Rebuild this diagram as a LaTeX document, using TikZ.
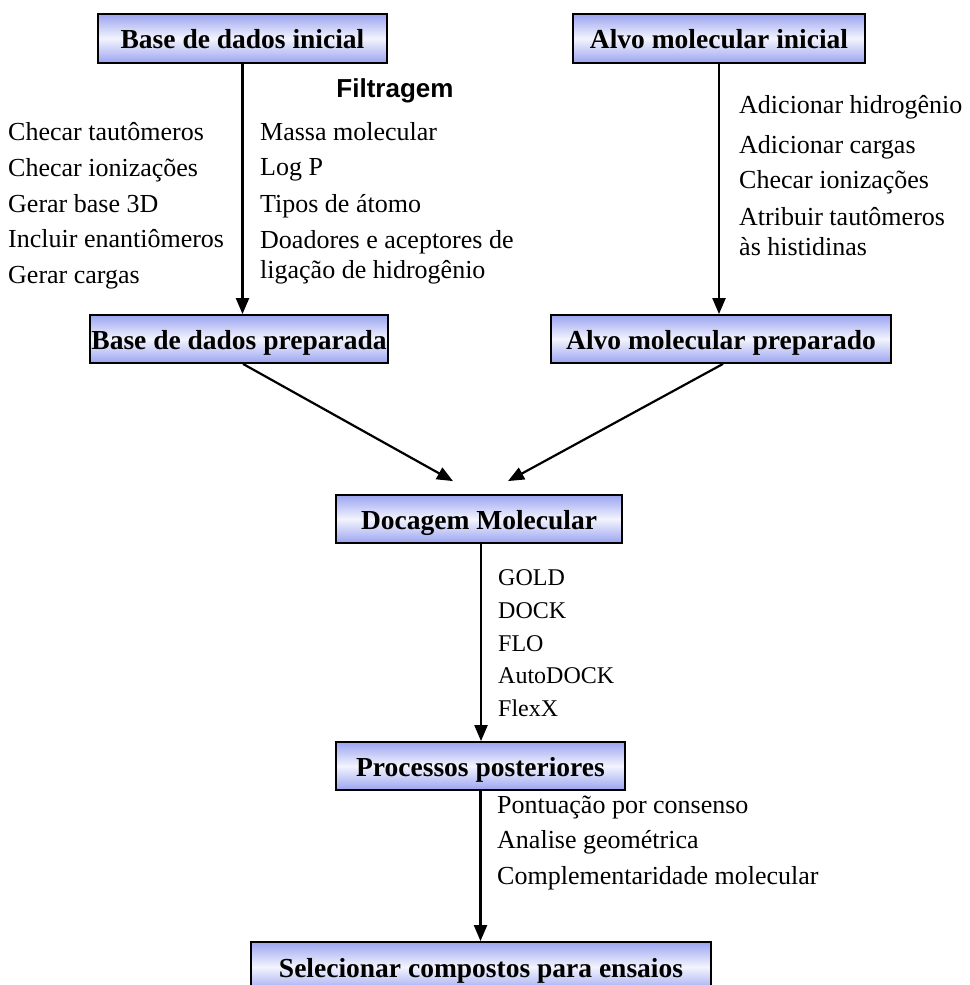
\documentclass[tikz,border=0pt]{standalone}
\usepackage{fontspec}
\setmainfont{Liberation Serif}
\newfontfamily\arialfont{Liberation Sans}
\usetikzlibrary{arrows.meta,shadows,calc}
\definecolor{boxblue}{RGB}{155,164,240}
\definecolor{boxmid}{RGB}{243,244,253}
\begin{document}
\begin{tikzpicture}[x=1pt,y=-1pt,
  box/.style={draw=black, line width=1.8pt, top color=boxblue, bottom color=boxblue, middle color=boxmid,
    font=\fontsize{27.5}{31}\selectfont\bfseries, text height=20pt, text depth=0pt, inner sep=0pt,
    drop shadow={shadow xshift=1.2pt, shadow yshift=-1.2pt, fill=black, opacity=0.8}},
  txt/.style={anchor=base west, inner sep=0pt, font=\fontsize{26}{31}\selectfont},
  stxt/.style={anchor=base west, inner sep=0pt, font=\fontsize{24}{29}\selectfont},
  arr/.style={line width=2.2pt, -{Triangle[length=16pt,width=13pt]}}]
\clip (0,0) rectangle (969,985);
\fill[white] (0,0) rectangle (969,985);

% boxes
\node[box, minimum width=289pt, minimum height=49pt] (b1) at (242.5,38.5) {Base de dados inicial};
\node[box, minimum width=292pt, minimum height=49pt] (b2) at (719,38.5) {Alvo molecular inicial};
\node[box, minimum width=298pt, minimum height=48pt] (b3) at (239,339) {Base de dados preparada};
\node[box, minimum width=340pt, minimum height=48pt] (b4) at (721,339) {Alvo molecular preparado};
\node[box, minimum width=286pt, minimum height=48pt] (b5) at (479,519) {Docagem Molecular};
\node[box, minimum width=289pt, minimum height=48pt] (b6) at (480.5,766) {Processos posteriores};
\node[box, minimum width=460pt, minimum height=50pt] (b7) at (481,967) {Selecionar compostos para ensaios};

% arrows
\draw[arr] (b1.south) -- (b1.south |- b3.north);
\draw[arr] (b2.south) -- (b2.south |- b4.north);
\draw[arr] ([xshift=4pt]b3.south) -- ([xshift=-26pt,yshift=13pt]b5.north);
\draw[arr] ([xshift=2pt]b4.south) -- ([xshift=29pt,yshift=13pt]b5.north);
\draw[arr] ([xshift=2pt]b5.south) -- ([xshift=2pt]b5.south |- b6.north);
\draw[arr] (b6.south) -- (b6.south |- b7.north);

% left list
\node[txt] (l1) at (8,140) {Checar tautômeros};
\node[txt] (l2) at (8,176) {Checar ionizações};
\node[txt] (l3) at (8,212) {Gerar base 3D};
\node[txt] (l4) at (8,247) {Incluir enantiômeros};
\node[txt] (l5) at (8,283) {Gerar cargas};

% filter list
\node[anchor=base, inner sep=0pt, font=\arialfont\fontsize{26}{31}\selectfont\bfseries] (ft) at (395,97) {Filtragem};
\node[txt] (m1) at (260,140) {Massa molecular};
\node[txt] (m2) at (260,175) {Log P};
\node[txt] (m3) at (260,212) {Tipos de átomo};
\node[txt] (m4) at (260,248) {Doadores e aceptores de};
\node[txt] (m5) at (260,278) {ligação de hidrogênio};

% right list
\node[txt] (r1) at (739,113) {Adicionar hidrogênio};
\node[txt] (r2) at (739,153) {Adicionar cargas};
\node[txt] (r3) at (739,188) {Checar ionizações};
\node[txt] (r4) at (739,225) {Atribuir tautômeros};
\node[txt] (r5) at (739,255) {às histidinas};

% docking list
\node[stxt] (d1) at (498,585) {GOLD};
\node[stxt] (d2) at (498,618) {DOCK};
\node[stxt] (d3) at (498,651) {FLO};
\node[stxt] (d4) at (498,683) {AutoDOCK};
\node[stxt] (d5) at (498,716) {FlexX};

% post-processing list
\node[txt] (p1) at (497,813) {Pontuação por consenso};
\node[txt] (p2) at (497,848) {Analise geométrica};
\node[txt] (p3) at (497,884) {Complementaridade molecular};
\end{tikzpicture}
\end{document}
